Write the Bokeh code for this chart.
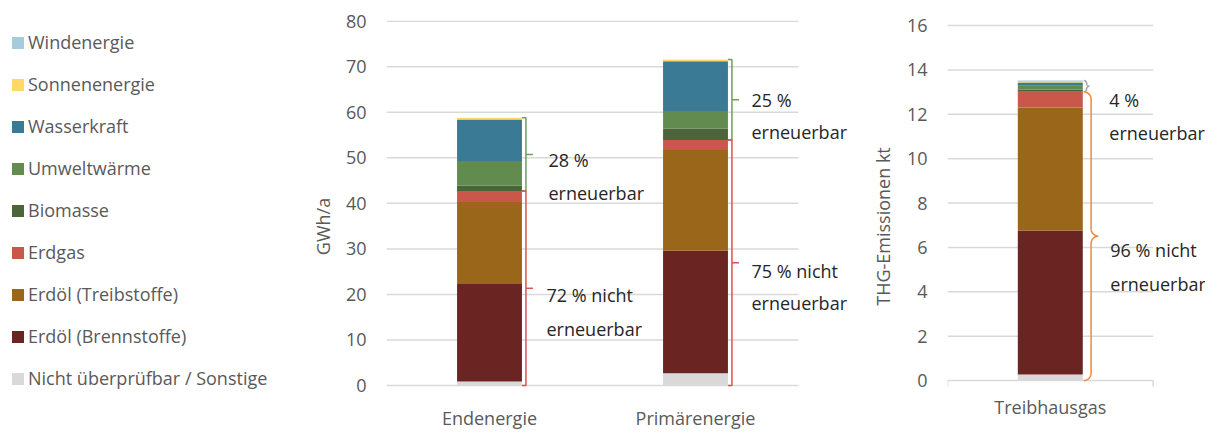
import numpy as np
from bokeh.plotting import figure
from bokeh.models import (Range1d, Legend, LegendItem, Label, FixedTicker, ColumnDataSource)
from bokeh.layouts import row
from bokeh.embed import file_html
from bokeh.resources import INLINE

# ---------------- data ----------------
sources = ["Nicht überprüfbar / Sonstige", "Erdöl (Brennstoffe)", "Erdöl (Treibstoffe)",
           "Erdgas", "Biomasse", "Umweltwärme", "Wasserkraft", "Sonnenenergie", "Windenergie"]
colors = ["#D9D9D9", "#6A2422", "#9A6619", "#C9584B", "#4B6439", "#628B4F",
          "#3A7A95", "#FFD966", "#A5CBDC"]
renewable = [False, False, False, False, True, True, True, True, True]

energy_cats = ["Endenergie", "Primärenergie"]
endenergie = [0.9, 21.4, 18.0, 2.4, 1.2, 5.4, 9.1, 0.4, 0.0]          # GWh/a
primaerenergie = [2.7, 26.9, 22.1, 2.2, 2.5, 3.9, 10.9, 0.4, 0.0]     # GWh/a

ghg_cats = ["Treibhausgas"]
treibhausgas = [0.27, 6.49, 5.54, 0.71, 0.09, 0.18, 0.15, 0.04, 0.05]  # kt

energy_ren_text = ["28 %", "25 %"]
energy_non_text = ["72 % nicht", "75 % nicht"]
ghg_ren_text = ["4 %"]
ghg_non_text = ["96 % nicht"]
second_line = "erneuerbar"

energy_ticks = list(range(0, 81, 10))
ghg_ticks = list(range(0, 17, 2))

# ---------------- style ----------------
FONT = "Open Sans"
GRID = "#D9D9D9"
AXTXT = "#595959"
ANNTXT = "#262626"
FS = "18px"
GREEN_BR = "#6E9E5A"
RED_BR = "#D9544B"
ORANGE_BR = "#F08A3A"
GRAY_BR = "#A5A5A5"
FRAME_TOP = 20          # common frame top of all figures in the row
HEIGHT = 432


def style_y(p, ticks, ncats, label, standoff_lbl):
    ax = p.yaxis[0]
    ax.ticker = FixedTicker(ticks=ticks)
    ax.bounds = (ticks[0], ticks[-1])
    ax.axis_line_color = None
    ax.major_tick_line_color = None
    ax.minor_tick_line_color = None
    ax.major_label_standoff = 14
    ax.major_label_text_font = FONT
    ax.major_label_text_font_size = FS
    ax.major_label_text_color = AXTXT
    ax.axis_label = label
    ax.axis_label_text_font = FONT
    ax.axis_label_text_font_size = FS
    ax.axis_label_text_font_style = "normal"
    ax.axis_label_text_color = AXTXT
    ax.axis_label_standoff = standoff_lbl
    p.grid.visible = False
    # horizontal gridlines only across the category area
    p.segment(x0=0, x1=ncats, y0=ticks, y1=ticks, line_color=GRID, line_width=1.5)


def stack_source(xpos, series_list):
    d = {"x": xpos}
    for i, s in enumerate(sources):
        d[s] = [ser[i] for ser in series_list]
    return ColumnDataSource(d)


def add_text(p, x, y, xo, yo, txt, **kw):
    p.add_layout(Label(x=x, y=y, x_offset=xo, y_offset=yo, text=txt,
                       text_font=FONT, text_font_size=FS, text_color=kw.get("color", ANNTXT),
                       text_baseline=kw.get("baseline", "middle"),
                       text_align=kw.get("align", "left")))


def brace_path(x_left, y_bot, y_top, xpx, ypx, rmax=7.3, start=1.0):
    """Curly brace '}' geometry in data units, from pixel sizes."""
    H = (y_top - y_bot) * ypx
    r = min(rmax, H / 4.0)
    ymid = (y_top + y_bot) / 2.0
    t = np.linspace(0, np.pi / 2, 12)
    def X(px):
        return x_left + (start + px) / xpx
    def Y(yd, px):
        return yd + px / ypx
    xs, ys = [], []
    xs += list(X(r * np.sin(t))); ys += list(Y(y_top, -r + r * np.cos(t)))
    xs += list(X(2 * r - r * np.cos(t))); ys += list(Y(ymid, r - r * np.sin(t)))
    xs += list(X(2 * r - r * np.sin(t))); ys += list(Y(ymid, -r + r * np.cos(t)))
    xs += list(X(r * np.cos(t))); ys += list(Y(y_bot, r - r * np.sin(t)))
    return xs, ys


def make_chart(width, b_left, top_px, zero_px, unit_px_x, ymax):
    """Frame runs from (b_left, FRAME_TOP) to the right / bottom edge of the figure;
    the value axis runs from zero_px (value 0) up to top_px (value ymax)."""
    frame_w = width - b_left
    ypx = (zero_px - top_px) / ymax
    y_start = -(HEIGHT - zero_px) / ypx
    y_end = ymax + (top_px - FRAME_TOP) / ypx
    p = figure(width=width, height=HEIGHT,
               x_range=Range1d(0, frame_w / unit_px_x), y_range=Range1d(y_start, y_end),
               output_backend="svg", toolbar_location=None, title_location=None,
               x_axis_location=None,
               min_border_left=b_left, min_border_right=0, min_border_top=FRAME_TOP,
               min_border_bottom=0, outline_line_color=None)
    return p, unit_px_x, ypx


# ---------------- legend figure ----------------
pl = figure(width=300, height=HEIGHT, x_range=Range1d(0, 1), y_range=Range1d(0, 1),
            output_backend="svg", toolbar_location=None, title_location=None,
            x_axis_location=None, y_axis_location=None,
            min_border_left=0, min_border_right=0, min_border_top=FRAME_TOP, min_border_bottom=0,
            outline_line_color=None)
pl.grid.visible = False
items = []
for name, col in reversed(list(zip(sources, colors))):
    r = pl.vbar(x=[10], top=[1], width=0.5, fill_color=col, line_color=None)
    items.append(LegendItem(label=name, renderers=[r]))
leg = Legend(items=items, location="top_left", glyph_width=15, glyph_height=15,
             label_height=24, spacing=18, label_standoff=3, padding=1, margin=10,
             border_line_color=None, background_fill_alpha=0,
             label_text_font=FONT, label_text_font_size=FS, label_text_color=AXTXT)
pl.add_layout(leg)

# ---------------- energy chart ----------------
p1, xpx1, ypx1 = make_chart(560, 86, 20.7, 385, 206.0, energy_ticks[-1])
style_y(p1, energy_ticks, len(energy_cats), "GWh/a", 8)
bw1 = 0.315
energy_x = [i + 0.5 for i in range(len(energy_cats))]
src1 = stack_source(energy_x, [endenergie, primaerenergie])
p1.vbar_stack(sources, x="x", width=bw1, fill_color=colors, line_color=None, source=src1)

ren_off = [(59, -6, -39), (56, 0, -32)]
non_off = [(57, -7, -41), (56, -8, -40)]
for j, (cat, ser) in enumerate(zip(energy_cats, [endenergie, primaerenergie])):
    cx = energy_x[j]
    total = sum(ser)
    nr = sum(v for v, rn in zip(ser, renewable) if not rn)
    br = cx + bw1 / 2
    v = br + 4 / xpx1
    o = br + 11 / xpx1
    p1.multi_line(xs=[[br, v, v, br], [v, o]],
                  ys=[[total, total, nr, nr], [(total + nr) / 2] * 2],
                  line_color=GREEN_BR, line_width=1.5)
    p1.multi_line(xs=[[br, v, v, br], [v, o]],
                  ys=[[nr, nr, 0, 0], [nr / 2] * 2],
                  line_color=RED_BR, line_width=1.5)
    xo, y1o, y2o = ren_off[j]
    add_text(p1, cx, (total + nr) / 2, xo, y1o, energy_ren_text[j])
    add_text(p1, cx, (total + nr) / 2, xo, y2o, second_line)
    xo, y1o, y2o = non_off[j]
    add_text(p1, cx, nr / 2, xo, y1o, energy_non_text[j])
    add_text(p1, cx, nr / 2, xo, y2o, second_line)
    add_text(p1, cx, 0, 0, -20, cat, color=AXTXT, baseline="top", align="center")

# ---------------- GHG chart ----------------
p2, xpx2, ypx2 = make_chart(345, 87, 25, 380, 205.6, ghg_ticks[-1])
style_y(p2, ghg_ticks, len(ghg_cats), "THG-Emissionen kt", 9)
bw2 = 0.316
ghg_x = [i + 0.5 for i in range(len(ghg_cats))]
src2 = stack_source(ghg_x, [treibhausgas])
p2.vbar_stack(sources, x="x", width=bw2, fill_color=colors, line_color=None, source=src2)

# category-axis end ticks
tick_len = 6 / ypx2
p2.segment(x0=[0, len(ghg_cats)], x1=[0, len(ghg_cats)], y0=0, y1=-tick_len,
           line_color=GRID, line_width=1.5)

total = sum(treibhausgas)
nr = sum(v for v, rn in zip(treibhausgas, renewable) if not rn)
br = ghg_x[0] + bw2 / 2
xs, ys = brace_path(br, nr, total, xpx2, ypx2)
p2.line(xs, ys, line_color=GRAY_BR, line_width=1.5)
xs, ys = brace_path(br, 0, nr, xpx2, ypx2)
p2.line(xs, ys, line_color=ORANGE_BR, line_width=1.5)
add_text(p2, ghg_x[0], (total + nr) / 2, 59, -14, ghg_ren_text[0])
add_text(p2, ghg_x[0], (total + nr) / 2, 59, -47, second_line)
add_text(p2, ghg_x[0], nr / 2, 60, -14, ghg_non_text[0])
add_text(p2, ghg_x[0], nr / 2, 60, -48, second_line)
add_text(p2, ghg_x[0], 0, 0, -14, ghg_cats[0], color=AXTXT, baseline="top", align="center")

layout = row(pl, p1, p2)
open("out.html", "w").write(file_html(layout, INLINE))
